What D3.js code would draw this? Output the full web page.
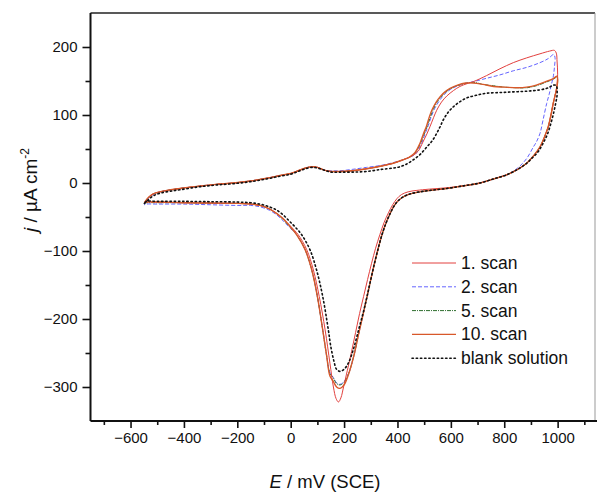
<!DOCTYPE html>
<html>
<head>
<meta charset="utf-8">
<script src="https://cdn.jsdelivr.net/npm/d3@7"></script>
<style>
  html, body { margin: 0; padding: 0; background: #fff; }
  svg { display: block; font-family: Arial, "Liberation Sans", sans-serif; }
</style>
</head>
<body>
<svg id="chart" width="597" height="494"></svg>
<script>
// CV loops, [E / mV, j / µA cm-2], forward sweep then reverse sweep
const scan1 = [
  [-548,-29],[-535,-22],[-515,-16],[-490,-13],[-450,-10],[-415,-8],[-350,-5],[-280,-2],[-215,0],[-150,3],
  [-90,7],[-40,11],[0,14],[28,18],[55,22],[80,24],[100,23],[125,19],[150,17],[185,17],[230,18],[285,21],
  [340,25],[384,29],[420,34],[445,38],[460,41],[478,47],[495,60],[510,72],[522,83],[535,96],[547,107],
  [565,119],[585,128],[610,136],[634,142],[660,146],[684,149],[734,158],[784,168],[834,177],[884,184],
  [934,190],[970,194],[988,195],[995,191],[998,178],[1000,160],[996,140],[990,128],[984,118],[965,83],
  [950,67],[934,53],[910,40],[884,29],[850,20],[809,12],[760,6],[709,0],[650,-4],[585,-7],[520,-9],
  [470,-11],[440,-13],[415,-17],[398,-23],[382,-32],[366,-44],[350,-58],[334,-76],[318,-96],[303,-118],
  [288,-142],[273,-167],[258,-192],[243,-220],[228,-248],[212,-276],[198,-300],[188,-316],[179,-322],
  [170,-317],[160,-300],[147,-265],[129,-216],[107,-167],[85,-128],[60,-98],[28,-76],[3,-65],[-30,-52],
  [-52,-45],[-80,-38],[-115,-33],[-150,-31],[-200,-30],[-300,-29.5],[-400,-29],[-500,-28],[-540,-28],
  [-548,-29]
];
const scan2 = [
  [-548,-32],[-535,-23],[-515,-17],[-490,-13],[-450,-10],[-415,-8],[-350,-5],[-280,-2],[-215,0],[-150,3],
  [-90,7],[-40,11],[0,14],[28,18],[55,22],[80,24],[100,23],[125,19],[150,18],[185,18],[230,20],[285,23],
  [340,26],[384,30],[420,34],[445,38],[466,42],[488,56],[503,72],[515,84],[527,98],[540,110],[557,121],
  [575,130],[600,138],[640,145],[684,149],[734,154],[784,159],[834,165],[884,170],[934,177],[965,183],
  [985,189],[990,185],[988,170],[983,155],[978,147],[968,130],[959,117],[945,92],[934,73],[920,60],
  [909,53],[884,36],[850,22],[809,12],[760,6],[709,0],[650,-4],[585,-8],[520,-11],[470,-14],[440,-17],
  [415,-22],[398,-28],[384,-36],[370,-47],[356,-60],[342,-76],[328,-96],[314,-118],[300,-142],
  [286,-167],[272,-192],[255,-221],[236,-255],[217,-280],[200,-292],[185,-296],[172,-294],[160,-286],
  [147,-279],[135,-255],[120,-216],[100,-167],[79,-128],[54,-98],[22,-76],[0,-67],[-30,-55],[-52,-47],
  [-80,-40],[-115,-35],[-150,-33],[-200,-33],[-300,-32],[-400,-31],[-500,-31],[-540,-31],[-548,-32]
];
const scan5 = [
  [-548,-30],[-535,-22],[-515,-16],[-490,-13],[-450,-10],[-415,-8],[-350,-5],[-280,-2],[-215,0],[-150,3],
  [-90,7],[-40,11],[0,14],[28,18],[55,22],[80,24],[100,23],[125,19],[150,17],[185,17],[230,18],[285,21],
  [340,25],[384,29],[420,34],[445,38],[466,44],[486,58],[500,72],[512,84],[524,98],[535,109],[550,120],
  [566,128],[585,135],[610,141],[640,145],[684,148],[720,145],[760,143],[800,141],[850,140],[884,140],
  [920,143],[955,148],[985,153],[998,156],[1000,150],[996,138],[990,128],[984,118],[975,100],[965,83],
  [950,67],[934,53],[910,40],[884,29],[850,20],[809,12],[760,6],[709,0],[650,-4],[585,-8],[520,-11],
  [470,-14],[440,-17],[415,-22],[398,-28],[384,-36],[370,-47],[356,-60],[342,-76],[328,-96],[314,-118],
  [300,-142],[286,-167],[272,-192],[255,-221],[236,-255],[217,-280],[200,-293],[185,-297],[172,-295],
  [160,-287],[147,-280],[135,-255],[120,-216],[100,-167],[79,-128],[54,-98],[22,-76],[0,-66],[-30,-53],
  [-52,-45],[-80,-38],[-115,-33],[-150,-31],[-200,-30],[-300,-30],[-400,-29],[-500,-29],[-540,-29],
  [-548,-30]
];
const scan10 = [
  [-548,-29],[-535,-22],[-515,-16],[-490,-13],[-450,-10],[-415,-8],[-350,-5],[-280,-2],[-215,0],[-150,3],
  [-90,7],[-40,11],[0,14],[28,18],[55,22],[80,24],[100,23],[125,19],[150,17],[185,17],[230,18],[285,21],
  [340,25],[384,29],[420,34],[445,38],[466,45],[484,58],[497,72],[509,84],[520,98],[530,108],[545,119],
  [560,127],[578,134],[597,139],[625,144],[655,147],[684,147],[720,145],[760,142],[800,141],[850,140],
  [884,141],[920,144],[955,149],[985,154],[998,157],[1000,150],[996,138],[990,128],[984,118],[975,100],
  [965,83],[950,67],[934,53],[910,40],[884,29],[850,20],[809,12],[760,6],[709,0],[650,-4],[585,-8],
  [520,-11],[470,-14],[440,-17],[415,-22],[398,-28],[384,-36],[370,-47],[356,-60],[342,-76],[328,-96],
  [314,-118],[300,-142],[286,-167],[272,-192],[255,-221],[236,-255],[217,-281],[200,-297],[185,-302],
  [172,-300],[160,-292],[147,-284],[135,-255],[120,-216],[100,-167],[79,-128],[54,-98],[22,-76],[0,-65],
  [-30,-52],[-52,-45],[-80,-38],[-115,-33],[-150,-31],[-200,-30],[-300,-29.5],[-400,-29],[-500,-28],
  [-540,-28],[-548,-29]
];
const blank = [
  [-548,-30],[-535,-25],[-515,-19],[-490,-15],[-450,-12],[-415,-10],[-350,-6],[-280,-3],[-215,-1],[-150,2],
  [-90,6],[-40,10],[0,13],[28,17],[55,21],[80,23],[100,22],[125,19],[150,16],[185,16],[230,16],[285,17],
  [340,20],[384,22],[410,24],[435,28],[459,34],[485,42],[510,53],[530,62],[547,73],[560,83],[572,93],
  [590,104],[609,112],[632,119],[659,125],[695,129],[734,132],[784,133],[834,134],[884,135],[934,137],
  [965,140],[985,144],[995,143],[998,130],[993,118],[986,105],[975,88],[962,72],[945,58],[925,45],
  [900,35],[884,29],[850,20],[809,12],[760,6],[709,0],[650,-4],[585,-8],[520,-11],[470,-14],[440,-17],
  [415,-22],[398,-28],[384,-36],[370,-47],[356,-60],[342,-76],[328,-96],[314,-118],[300,-142],
  [286,-167],[272,-190],[255,-215],[236,-243],[217,-264],[200,-274],[185,-277],[172,-274],[162,-262],
  [150,-240],[141,-216],[120,-167],[97,-128],[72,-98],[41,-76],[15,-64],[-5,-56],[-28,-47],[-52,-40],
  [-80,-35],[-115,-31],[-150,-29],[-200,-28],[-300,-27.5],[-400,-27],[-500,-27],[-540,-27],[-548,-30]
];

const seriesNames = ['1. scan', '2. scan', '5. scan', '10. scan', 'blank solution'];
const xMajorTicks = [-600, -400, -200, 0, 200, 400, 600, 800, 1000];
const xMinorTicks = [-700, -500, -300, -100, 100, 300, 500, 700, 900, 1100];
const yMajorTicks = [-300, -200, -100, 0, 100, 200];
const yMinorTicks = [-250, -150, -50, 50, 150];

const styles = {
  '1. scan':        { data: scan1,  color: '#e2403e', width: 1,   dash: null },
  '2. scan':        { data: scan2,  color: '#6464ff', width: 1,   dash: '4,2' },
  '5. scan':        { data: scan5,  color: '#2e6e2e', width: 1,   dash: '4,1,1,1' },
  '10. scan':       { data: scan10, color: '#d8582a', width: 1.4, dash: null },
  'blank solution': { data: blank,  color: '#111',    width: 1.6, dash: '1.4,2.8' }
};

const svg = d3.select('#chart');
const L = 90.5, R = 595, T = 13, B = 421;

const x = d3.scaleLinear().domain([-750, 1140]).range([L, R]);
const y = d3.scaleLinear().domain([-350, 250]).range([B, T]);

// frame (top + right light)
svg.append('line').attr('x1', L).attr('x2', R).attr('y1', T).attr('y2', T)
  .attr('stroke', '#222').attr('stroke-width', 1.6);
svg.append('line').attr('x1', R).attr('x2', R).attr('y1', T).attr('y2', B)
  .attr('stroke', '#999').attr('stroke-width', 1);

// curves
const line = d3.line()
  .x(d => x(d[0]))
  .y(d => y(d[1]))
  .curve(d3.curveCatmullRom.alpha(0.5));

const drawOrder = ['2. scan', '5. scan', '1. scan', '10. scan', 'blank solution'];
drawOrder.forEach(name => {
  const s = styles[name];
  svg.append('path')
    .datum(s.data)
    .attr('d', line)
    .attr('fill', 'none')
    .attr('stroke', s.color)
    .attr('stroke-width', s.width)
    .attr('stroke-dasharray', s.dash)
    .attr('stroke-linecap', name === 'blank solution' ? 'round' : 'butt')
    .attr('stroke-linejoin', 'round');
});

// axes
const xAxis = svg.append('g').attr('transform', `translate(0,${B})`)
  .call(d3.axisBottom(x).tickValues(xMajorTicks).tickSize(7).tickPadding(4).tickFormat(d3.format('d')));
svg.append('g').attr('transform', `translate(0,${B})`)
  .call(d3.axisBottom(x).tickValues(xMinorTicks).tickSize(4).tickFormat(''))
  .call(g => g.select('.domain').remove());

const yAxis = svg.append('g').attr('transform', `translate(${L},0)`)
  .call(d3.axisLeft(y).tickValues(yMajorTicks).tickSize(8).tickPadding(5).tickFormat(d3.format('d')));
svg.append('g').attr('transform', `translate(${L},0)`)
  .call(d3.axisLeft(y).tickValues(yMinorTicks).tickSize(5).tickFormat(''))
  .call(g => g.select('.domain').remove());

svg.selectAll('.domain').attr('stroke', '#111').attr('stroke-width', 2);
svg.selectAll('.tick line').attr('stroke', '#111').attr('stroke-width', 1.6);
svg.selectAll('.tick text')
  .attr('font-size', 15)
  .attr('fill', '#111')
  .attr('font-family', 'Arial, "Liberation Sans", sans-serif');
xAxis.select('.domain').attr('d', `M${L},0H597`);
yAxis.select('.domain').attr('d', `M0,${T}V${B}`);

// axis titles
svg.append('text')
  .attr('x', 325).attr('y', 488)
  .attr('text-anchor', 'middle')
  .attr('font-size', 18.5)
  .attr('fill', '#111')
  .call(t => {
    t.append('tspan').attr('font-style', 'italic').text('E');
    t.append('tspan').text(' / mV (SCE)');
  });

svg.append('text')
  .attr('transform', 'translate(37,190) rotate(-90)')
  .attr('text-anchor', 'middle')
  .attr('font-size', 19)
  .attr('fill', '#111')
  .call(t => {
    t.append('tspan').attr('font-style', 'italic').text('j');
    t.append('tspan').text(' / µA cm');
    t.append('tspan').attr('font-size', 12).attr('dy', -8).text('-2');
  });

// legend
const legend = svg.append('g').attr('transform', 'translate(412,263)');
seriesNames.forEach((name, i) => {
  const s = styles[name];
  const row = legend.append('g').attr('transform', `translate(0,${i * 23.8})`);
  row.append('line')
    .attr('x1', 0).attr('x2', 44).attr('y1', 0).attr('y2', 0)
    .attr('stroke', s.color)
    .attr('stroke-width', s.width)
    .attr('stroke-dasharray', s.dash)
    .attr('stroke-linecap', name === 'blank solution' ? 'round' : 'butt');
  row.append('text')
    .attr('x', 49).attr('y', 6)
    .attr('font-size', 17.5)
    .attr('fill', '#111')
    .text(name);
});
</script>
</body>
</html>
